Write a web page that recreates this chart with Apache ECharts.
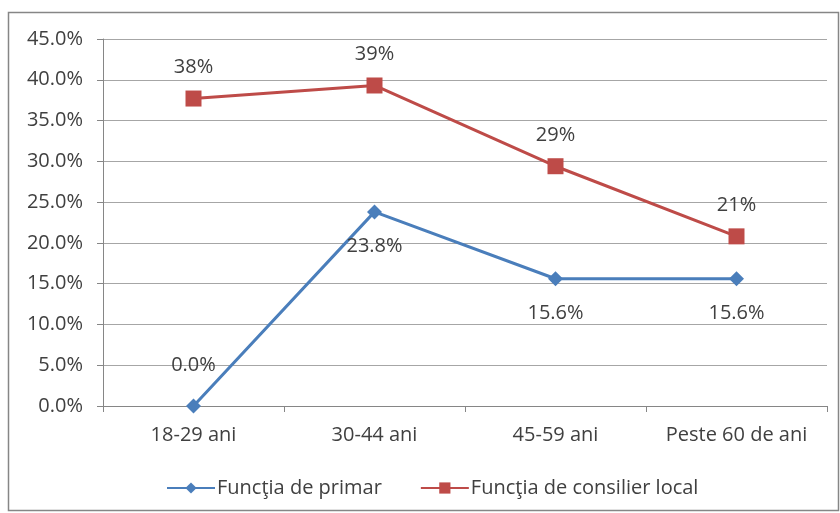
<!DOCTYPE html>
<html>
<head>
<meta charset="utf-8">
<script src="https://cdn.jsdelivr.net/npm/echarts@6/dist/echarts.min.js"></script>
<style>
html,body{margin:0;padding:0;background:#fff;}
#chart{width:840px;height:513px;}
</style>
</head>
<body>
<div id="chart"></div>
<script>
// categorii si valori
var categorii = ['18-29 ani', '30-44 ani', '45-59 ani', 'Peste 60 de ani'];
var primar = [0, 23.8, 15.6, 15.6];
var consilier = [37.7, 39.3, 29.4, 20.8];
var etichetePrimar = ['0.0%', '23.8%', '15.6%', '15.6%'];
var eticheteConsilier = ['38%', '39%', '29%', '21%'];
// pozitia etichetelor primar: deasupra sau dedesubt
var pozPrimar = ['top', 'bottom', 'bottom', 'bottom'];

var font = '"Open Sans", sans-serif';
var textColor = '#404040';

var myChart = echarts.init(document.getElementById('chart'));

function dateCuEtichete(valori, texte, pozitii, dist) {
    return valori.map(function (v, i) {
        return {
            value: v,
            label: {
                show: true,
                position: pozitii[i],
                distance: dist[i],
                formatter: texte[i]
            }
        };
    });
}

myChart.setOption({
    backgroundColor: '#fff',
    animation: false,
    graphic: [{
        type: 'rect',
        shape: { x: 8.5, y: 12.5, width: 830, height: 498 },
        style: { fill: 'none', stroke: '#868686', lineWidth: 1.5 },
        silent: true
    }],
    grid: { left: 103, right: 13, top: 39, bottom: 107 },
    legend: {
        bottom: 10,
        left: 161,
        itemWidth: 48,
        itemHeight: 14,
        itemGap: 38,
        textStyle: { fontFamily: font, fontSize: 20, color: textColor, padding: [0, 0, 0, -3] },
        data: ['Funcţia de primar', 'Funcţia de consilier local']
    },
    xAxis: {
        type: 'category',
        data: categorii,
        boundaryGap: true,
        axisLine: { lineStyle: { color: '#868686', width: 1 } },
        axisTick: { show: true, interval: 0, length: 6, lineStyle: { color: '#868686' } },
        axisLabel: { interval: 0, hideOverlap: false, fontFamily: font, fontSize: 20, color: textColor, margin: 19 }
    },
    yAxis: {
        type: 'value',
        min: 0,
        max: 45,
        interval: 5,
        axisLine: { show: true, lineStyle: { color: '#868686' } },
        axisTick: { show: true, length: 6, lineStyle: { color: '#868686' } },
        axisLabel: {
            fontFamily: font, fontSize: 20, color: textColor, margin: 20,
            formatter: function (v) { return v.toFixed(1) + '%'; }
        },
        splitLine: { lineStyle: { color: '#a6a6a6', width: 1 } }
    },
    series: [{
        name: 'Funcţia de primar',
        type: 'line',
        data: dateCuEtichete(primar, etichetePrimar, pozPrimar, [23, 17, 17, 17]),
        symbol: 'diamond',
        symbolSize: 15,
        lineStyle: { color: '#4a7ebb', width: 3 },
        itemStyle: { color: '#4a7ebb' },
        label: { fontFamily: font, fontSize: 20, color: textColor },
        z: 3
    }, {
        name: 'Funcţia de consilier local',
        type: 'line',
        data: dateCuEtichete(consilier, eticheteConsilier, ['top', 'top', 'top', 'top'], [13, 13, 13, 13]),
        symbol: 'rect',
        symbolSize: 16,
        lineStyle: { color: '#be4b48', width: 3 },
        itemStyle: { color: '#be4b48' },
        label: { fontFamily: font, fontSize: 20, color: textColor },
        z: 2
    }]
});
</script>
</body>
</html>
